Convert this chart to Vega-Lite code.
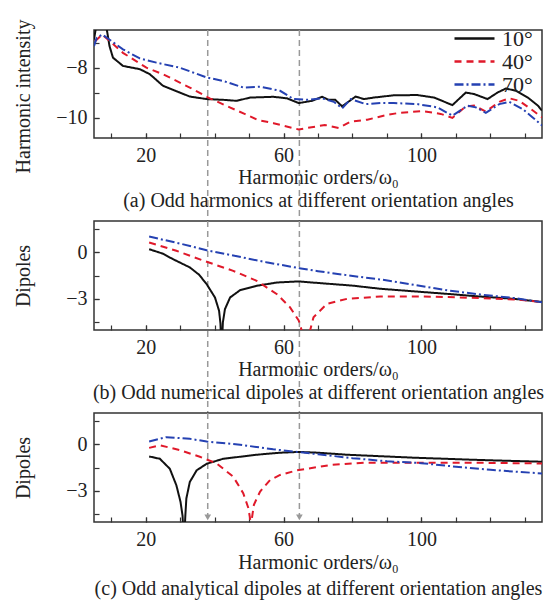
{
  "$schema": "https://vega.github.io/schema/vega-lite/v6.json",
  "background": "white",
  "padding": {"left": 12, "top": 18, "right": 5, "bottom": 2},
  "config": {
    "font": "Liberation Serif",
    "view": {"stroke": "#333", "strokeWidth": 1.5},
    "axis": {"domain": false, "grid": false, "tickSize": -5, "tickColor": "#333", "tickWidth": 1.2,
      "labelFont": "Liberation Serif", "titleFont": "Liberation Serif", "labelFontSize": 20, "titleFontSize": 20,
      "labelColor": "#222", "titleColor": "#222", "titleFontWeight": "normal", "labelOverlap": false, "labelFlush": false}
  },
  "datasets": {
    "a": [
      {"order": 5, "v": -6.88, "angle": "10°"}, {"order": 5.7, "v": -6.3, "angle": "10°"}, {"order": 8.5, "v": -6.3, "angle": "10°"},
      {"order": 9.5, "v": -7.14, "angle": "10°"}, {"order": 10.5, "v": -7.6, "angle": "10°"}, {"order": 13.4, "v": -7.93, "angle": "10°"},
      {"order": 18.3, "v": -8.06, "angle": "10°"}, {"order": 21.2, "v": -8.26, "angle": "10°"}, {"order": 25, "v": -8.72, "angle": "10°"},
      {"order": 29.9, "v": -8.99, "angle": "10°"}, {"order": 32.8, "v": -9.15, "angle": "10°"}, {"order": 37.7, "v": -9.25, "angle": "10°"},
      {"order": 42.5, "v": -9.28, "angle": "10°"}, {"order": 46.4, "v": -9.32, "angle": "10°"}, {"order": 50.3, "v": -9.19, "angle": "10°"},
      {"order": 57.1, "v": -9.16, "angle": "10°"}, {"order": 61, "v": -9.22, "angle": "10°"}, {"order": 64.4, "v": -9.41, "angle": "10°"},
      {"order": 68.3, "v": -9.32, "angle": "10°"}, {"order": 71.2, "v": -9.16, "angle": "10°"}, {"order": 73.1, "v": -9.28, "angle": "10°"},
      {"order": 75.0, "v": -9.28, "angle": "10°"}, {"order": 77.0, "v": -9.54, "angle": "10°"}, {"order": 80.9, "v": -9.15, "angle": "10°"},
      {"order": 83.3, "v": -9.25, "angle": "10°"}, {"order": 86.2, "v": -9.19, "angle": "10°"}, {"order": 92.0, "v": -9.1, "angle": "10°"},
      {"order": 98.8, "v": -9.09, "angle": "10°"}, {"order": 103.7, "v": -9.19, "angle": "10°"}, {"order": 109.0, "v": -9.49, "angle": "10°"},
      {"order": 112.9, "v": -8.99, "angle": "10°"}, {"order": 115.3, "v": -9.05, "angle": "10°"}, {"order": 119.2, "v": -9.25, "angle": "10°"},
      {"order": 122.1, "v": -8.99, "angle": "10°"}, {"order": 124.5, "v": -8.83, "angle": "10°"}, {"order": 127.5, "v": -8.92, "angle": "10°"},
      {"order": 130.9, "v": -9.19, "angle": "10°"}, {"order": 133.8, "v": -9.51, "angle": "10°"}, {"order": 135, "v": -9.71, "angle": "10°"},

      {"order": 5.3, "v": -6.95, "angle": "40°"}, {"order": 7.4, "v": -6.68, "angle": "40°"}, {"order": 13.4, "v": -7.41, "angle": "40°"},
      {"order": 20.2, "v": -8.0, "angle": "40°"}, {"order": 25, "v": -8.26, "angle": "40°"}, {"order": 32.8, "v": -8.79, "angle": "40°"},
      {"order": 38.6, "v": -9.22, "angle": "40°"}, {"order": 44.4, "v": -9.58, "angle": "40°"}, {"order": 48.7, "v": -9.84, "angle": "40°"},
      {"order": 52.5, "v": -10.08, "angle": "40°"}, {"order": 57.1, "v": -10.21, "angle": "40°"}, {"order": 64.4, "v": -10.46, "angle": "40°"},
      {"order": 72, "v": -10.28, "angle": "40°"}, {"order": 76, "v": -10.4, "angle": "40°"}, {"order": 79.5, "v": -10.15, "angle": "40°"},
      {"order": 84.3, "v": -10.07, "angle": "40°"}, {"order": 90.1, "v": -9.88, "angle": "40°"}, {"order": 93.5, "v": -9.8, "angle": "40°"},
      {"order": 100.3, "v": -9.73, "angle": "40°"}, {"order": 105.6, "v": -9.84, "angle": "40°"}, {"order": 109.0, "v": -10.0, "angle": "40°"},
      {"order": 112.9, "v": -9.54, "angle": "40°"}, {"order": 115.3, "v": -9.51, "angle": "40°"}, {"order": 118.7, "v": -9.75, "angle": "40°"},
      {"order": 122.6, "v": -9.36, "angle": "40°"}, {"order": 125.5, "v": -9.22, "angle": "40°"}, {"order": 128.4, "v": -9.32, "angle": "40°"},
      {"order": 131.8, "v": -9.65, "angle": "40°"}, {"order": 135, "v": -9.98, "angle": "40°"},

      {"order": 5, "v": -7.14, "angle": "70°"}, {"order": 5.8, "v": -6.81, "angle": "70°"}, {"order": 7.4, "v": -6.68, "angle": "70°"},
      {"order": 10.5, "v": -6.98, "angle": "70°"}, {"order": 13.4, "v": -7.27, "angle": "70°"}, {"order": 18.3, "v": -7.63, "angle": "70°"},
      {"order": 23.1, "v": -7.8, "angle": "70°"}, {"order": 29.9, "v": -8.0, "angle": "70°"}, {"order": 37.7, "v": -8.39, "angle": "70°"},
      {"order": 42.5, "v": -8.53, "angle": "70°"}, {"order": 48.3, "v": -8.79, "angle": "70°"}, {"order": 53.2, "v": -8.76, "angle": "70°"},
      {"order": 59.0, "v": -8.92, "angle": "70°"}, {"order": 62.9, "v": -9.25, "angle": "70°"}, {"order": 66.8, "v": -9.28, "angle": "70°"},
      {"order": 71.2, "v": -9.22, "angle": "70°"}, {"order": 74.6, "v": -9.36, "angle": "70°"}, {"order": 77.0, "v": -9.62, "angle": "70°"},
      {"order": 79.5, "v": -9.25, "angle": "70°"}, {"order": 83.8, "v": -9.45, "angle": "70°"}, {"order": 88.2, "v": -9.41, "angle": "70°"},
      {"order": 92.0, "v": -9.41, "angle": "70°"}, {"order": 98.8, "v": -9.45, "angle": "70°"}, {"order": 104.6, "v": -9.58, "angle": "70°"},
      {"order": 109.0, "v": -9.91, "angle": "70°"}, {"order": 113.4, "v": -9.51, "angle": "70°"}, {"order": 115.8, "v": -9.58, "angle": "70°"},
      {"order": 118.7, "v": -9.8, "angle": "70°"}, {"order": 122.6, "v": -9.45, "angle": "70°"}, {"order": 125.5, "v": -9.36, "angle": "70°"},
      {"order": 129.4, "v": -9.65, "angle": "70°"}, {"order": 132.3, "v": -9.98, "angle": "70°"}, {"order": 135, "v": -10.3, "angle": "70°"}
    ],
    "b": [
      {"order": 21, "v": 0.19, "angle": "10°"}, {"order": 25, "v": -0.1, "angle": "10°"}, {"order": 27.9, "v": -0.45, "angle": "10°"},
      {"order": 32.8, "v": -0.98, "angle": "10°"}, {"order": 35.5, "v": -1.45, "angle": "10°"}, {"order": 37.7, "v": -2.06, "angle": "10°"},
      {"order": 40.1, "v": -2.91, "angle": "10°"}, {"order": 41.3, "v": -3.77, "angle": "10°"}, {"order": 41.7, "v": -4.6, "angle": "10°"},
      {"order": 42.0, "v": -6.5, "angle": "10°"}, {"order": 42.4, "v": -4.5, "angle": "10°"}, {"order": 43.0, "v": -3.66, "angle": "10°"},
      {"order": 44.5, "v": -2.91, "angle": "10°"}, {"order": 47.4, "v": -2.44, "angle": "10°"}, {"order": 52.2, "v": -2.16, "angle": "10°"},
      {"order": 58.1, "v": -1.95, "angle": "10°"}, {"order": 64.4, "v": -1.88, "angle": "10°"}, {"order": 70, "v": -1.98, "angle": "10°"},
      {"order": 80, "v": -2.15, "angle": "10°"}, {"order": 88, "v": -2.35, "angle": "10°"}, {"order": 98, "v": -2.52, "angle": "10°"},
      {"order": 107.5, "v": -2.68, "angle": "10°"}, {"order": 117, "v": -2.85, "angle": "10°"}, {"order": 127, "v": -3.0, "angle": "10°"},
      {"order": 135, "v": -3.2, "angle": "10°"},

      {"order": 21, "v": 0.62, "angle": "40°"}, {"order": 28.9, "v": 0.09, "angle": "40°"}, {"order": 37.7, "v": -0.62, "angle": "40°"},
      {"order": 45.4, "v": -1.2, "angle": "40°"}, {"order": 52.2, "v": -1.84, "angle": "40°"}, {"order": 58.1, "v": -2.7, "angle": "40°"},
      {"order": 61.9, "v": -3.55, "angle": "40°"}, {"order": 64.4, "v": -4.39, "angle": "40°"}, {"order": 65.5, "v": -5.2, "angle": "40°"},
      {"order": 66.5, "v": -6.5, "angle": "40°"}, {"order": 67.5, "v": -5.2, "angle": "40°"}, {"order": 68.7, "v": -4.18, "angle": "40°"},
      {"order": 72.6, "v": -3.32, "angle": "40°"}, {"order": 78.4, "v": -3.0, "angle": "40°"}, {"order": 88.1, "v": -2.85, "angle": "40°"},
      {"order": 100, "v": -2.85, "angle": "40°"}, {"order": 110, "v": -2.9, "angle": "40°"}, {"order": 120, "v": -2.97, "angle": "40°"},
      {"order": 128, "v": -3.05, "angle": "40°"}, {"order": 135, "v": -3.2, "angle": "40°"},

      {"order": 21, "v": 1.0, "angle": "70°"}, {"order": 30, "v": 0.55, "angle": "70°"}, {"order": 37.7, "v": 0.12, "angle": "70°"},
      {"order": 45, "v": -0.2, "angle": "70°"}, {"order": 55, "v": -0.65, "angle": "70°"}, {"order": 64.6, "v": -1.03, "angle": "70°"},
      {"order": 70, "v": -1.22, "angle": "70°"}, {"order": 79, "v": -1.5, "angle": "70°"}, {"order": 88, "v": -1.75, "angle": "70°"},
      {"order": 98, "v": -2.1, "angle": "70°"}, {"order": 107.5, "v": -2.45, "angle": "70°"}, {"order": 117, "v": -2.72, "angle": "70°"},
      {"order": 127, "v": -2.95, "angle": "70°"}, {"order": 135, "v": -3.22, "angle": "70°"}
    ],
    "c": [
      {"order": 21, "v": -0.79, "angle": "10°"}, {"order": 24.1, "v": -0.94, "angle": "10°"}, {"order": 27, "v": -1.58, "angle": "10°"},
      {"order": 28.9, "v": -2.64, "angle": "10°"}, {"order": 30.1, "v": -3.7, "angle": "10°"}, {"order": 30.7, "v": -4.6, "angle": "10°"},
      {"order": 31.1, "v": -6.5, "angle": "10°"}, {"order": 31.5, "v": -4.6, "angle": "10°"}, {"order": 31.8, "v": -3.49, "angle": "10°"},
      {"order": 32.8, "v": -2.43, "angle": "10°"}, {"order": 34.8, "v": -1.68, "angle": "10°"}, {"order": 37.7, "v": -1.26, "angle": "10°"},
      {"order": 42.5, "v": -0.94, "angle": "10°"}, {"order": 52.2, "v": -0.68, "angle": "10°"}, {"order": 59, "v": -0.55, "angle": "10°"},
      {"order": 64.6, "v": -0.5, "angle": "10°"}, {"order": 70, "v": -0.55, "angle": "10°"}, {"order": 78.4, "v": -0.68, "angle": "10°"},
      {"order": 97.8, "v": -0.87, "angle": "10°"}, {"order": 117.3, "v": -1.02, "angle": "10°"}, {"order": 135, "v": -1.13, "angle": "10°"},

      {"order": 21, "v": -0.24, "angle": "40°"}, {"order": 24.1, "v": -0.07, "angle": "40°"}, {"order": 29.9, "v": -0.38, "angle": "40°"},
      {"order": 35.7, "v": -0.81, "angle": "40°"}, {"order": 40.6, "v": -1.24, "angle": "40°"}, {"order": 45.4, "v": -2.09, "angle": "40°"},
      {"order": 48.3, "v": -3.15, "angle": "40°"}, {"order": 49.8, "v": -4.11, "angle": "40°"}, {"order": 50.3, "v": -4.8, "angle": "40°"},
      {"order": 50.5, "v": -6.5, "angle": "40°"}, {"order": 50.8, "v": -4.8, "angle": "40°"}, {"order": 51.4, "v": -3.89, "angle": "40°"},
      {"order": 53.2, "v": -3.04, "angle": "40°"}, {"order": 56.1, "v": -2.3, "angle": "40°"}, {"order": 59, "v": -1.98, "angle": "40°"},
      {"order": 63.9, "v": -1.68, "angle": "40°"}, {"order": 70, "v": -1.47, "angle": "40°"}, {"order": 73.6, "v": -1.34, "angle": "40°"},
      {"order": 83.3, "v": -1.19, "angle": "40°"}, {"order": 97.8, "v": -1.19, "angle": "40°"}, {"order": 112.4, "v": -1.19, "angle": "40°"},
      {"order": 135, "v": -1.24, "angle": "40°"},

      {"order": 21, "v": 0.17, "angle": "70°"}, {"order": 26, "v": 0.45, "angle": "70°"}, {"order": 32.8, "v": 0.34, "angle": "70°"},
      {"order": 37.7, "v": 0.17, "angle": "70°"}, {"order": 47.4, "v": -0.04, "angle": "70°"}, {"order": 57, "v": -0.33, "angle": "70°"},
      {"order": 64, "v": -0.5, "angle": "70°"}, {"order": 70, "v": -0.65, "angle": "70°"}, {"order": 80, "v": -0.9, "angle": "70°"},
      {"order": 90, "v": -1.1, "angle": "70°"}, {"order": 100, "v": -1.22, "angle": "70°"}, {"order": 110, "v": -1.45, "angle": "70°"},
      {"order": 120, "v": -1.65, "angle": "70°"}, {"order": 128, "v": -1.78, "angle": "70°"}, {"order": 135, "v": -1.88, "angle": "70°"}
    ],
    "marks": [{"order": 38}, {"order": 64.6}]
  },
  "spacing": 83,
  "bounds": "flush",
  "resolve": {"legend": {"color": "independent", "strokeDash": "independent"}},
  "vconcat": [
    {
      "width": 448, "height": 108,
      "resolve": {"axis": {"x": "independent", "y": "independent"}},
      "layer": [
        {
          "data": {"name": "marks"},
          "mark": {"type": "rule", "color": "#999", "strokeDash": [6, 4], "strokeWidth": 1.5},
          "encoding": {
            "x": {"field": "order", "type": "quantitative", "axis": {"orient": "bottom", "values": [10, 20, 30, 40, 50, 60, 70, 80, 90, 100, 110, 120, 130], "labels": false, "title": null}},
            "y": {"datum": -6.5, "axis": {"orient": "left", "values": [-10, -9, -8, -7], "labels": false, "title": null}},
            "y2": {"datum": -14.1}
          }
        },
        {
          "data": {"name": "a"},
          "mark": {"type": "line", "clip": true, "strokeWidth": 2},
          "encoding": {
            "x": {"field": "order", "type": "quantitative", "scale": {"domain": [5, 135], "nice": false, "zero": false},
              "axis": {"orient": "bottom", "title": ["Harmonic orders/ω₀", "(a) Odd harmonics at different orientation angles"], "titleLineHeight": 23, "values": [20, 60, 100], "labelPadding": 12, "titlePadding": 2}},
            "y": {"field": "v", "type": "quantitative", "scale": {"domain": [-10.8, -6.5], "nice": false, "zero": false},
              "axis": {"orient": "left", "title": "Harmonic intensity", "values": [-10, -8], "labelPadding": 12, "titleX": -61, "titleY": 66}},
            "color": {"field": "angle", "type": "nominal", "scale": {"domain": ["10°", "40°", "70°"], "range": ["#111111", "#e0192a", "#2541b2"]},
              "legend": {"orient": "none", "legendX": 369, "legendY": -3, "title": null, "symbolType": "M-2,0L2,0", "symbolSize": 400, "symbolStrokeWidth": 2.5, "labelFontSize": 22, "labelFont": "Liberation Serif", "labelColor": "#222", "labelOffset": 16, "rowPadding": 0, "padding": 0}},
            "strokeDash": {"field": "angle", "type": "nominal", "scale": {"domain": ["10°", "40°", "70°"], "range": [[1, 0], [7, 5], [9, 3, 2, 3]]},
              "legend": {"orient": "none", "legendX": 369, "legendY": -3, "title": null, "symbolType": "M-2,0L2,0", "symbolSize": 400, "symbolStrokeWidth": 2.5, "labelFontSize": 22, "labelFont": "Liberation Serif", "labelColor": "#222", "labelOffset": 16, "rowPadding": 0, "padding": 0}}
          }
        }
      ]
    },
    {
      "width": 448, "height": 109,
      "resolve": {"axis": {"x": "independent", "y": "independent"}},
      "layer": [
        {
          "data": {"name": "marks"},
          "mark": {"type": "rule", "color": "#999", "strokeDash": [6, 4], "strokeWidth": 1.5},
          "encoding": {
            "x": {"field": "order", "type": "quantitative", "axis": {"orient": "bottom", "values": [10, 20, 30, 40, 50, 60, 70, 80, 90, 100, 110, 120, 130], "labels": false, "title": null}},
            "y": {"datum": 2, "axis": {"orient": "left", "values": [-4.5, -3, -1.5, 0, 1.5], "labels": false, "title": null}},
            "y2": {"datum": -10.33}
          }
        },
        {
          "data": {"name": "b"},
          "mark": {"type": "line", "clip": true, "strokeWidth": 2},
          "encoding": {
            "x": {"field": "order", "type": "quantitative", "scale": {"domain": [5, 135], "nice": false, "zero": false},
              "axis": {"orient": "bottom", "title": ["Harmonic orders/ω₀", "(b) Odd numerical dipoles at different orientation angles"], "titleLineHeight": 23, "values": [20, 60, 100], "labelPadding": 12, "titlePadding": 2}},
            "y": {"field": "v", "type": "quantitative", "scale": {"domain": [-5, 2], "nice": false, "zero": false},
              "axis": {"orient": "left", "title": "Dipoles", "values": [-3, 0], "labelPadding": 12, "titleX": -61}},
            "color": {"field": "angle", "type": "nominal", "scale": {"domain": ["10°", "40°", "70°"], "range": ["#111111", "#e0192a", "#2541b2"]}, "legend": null},
            "strokeDash": {"field": "angle", "type": "nominal", "scale": {"domain": ["10°", "40°", "70°"], "range": [[1, 0], [7, 5], [9, 3, 2, 3]]}, "legend": null}
          }
        }
      ]
    },
    {
      "width": 448, "height": 109,
      "resolve": {"axis": {"x": "independent", "y": "independent"}},
      "layer": [
        {
          "data": {"name": "marks"},
          "mark": {"type": "rule", "color": "#999", "strokeDash": [6, 4], "strokeWidth": 1.5},
          "encoding": {
            "x": {"field": "order", "type": "quantitative", "axis": {"orient": "bottom", "values": [10, 20, 30, 40, 50, 60, 70, 80, 90, 100, 110, 120, 130], "labels": false, "title": null}},
            "y": {"datum": 2, "axis": {"orient": "left", "values": [-4.5, -3, -1.5, 0, 1.5], "labels": false, "title": null}},
            "y2": {"datum": -4.6}
          }
        },
        {
          "data": {"name": "marks"},
          "mark": {"type": "point", "shape": "triangle-down", "filled": true, "color": "#999", "size": 45, "opacity": 1},
          "encoding": {"x": {"field": "order", "type": "quantitative", "axis": null}, "y": {"datum": -4.7, "axis": null}}
        },
        {
          "data": {"name": "c"},
          "mark": {"type": "line", "clip": true, "strokeWidth": 2},
          "encoding": {
            "x": {"field": "order", "type": "quantitative", "scale": {"domain": [5, 135], "nice": false, "zero": false},
              "axis": {"orient": "bottom", "title": ["Harmonic orders/ω₀", "(c) Odd analytical dipoles at different orientation angles"], "titleLineHeight": 26, "values": [20, 60, 100], "labelPadding": 12, "titlePadding": 3}},
            "y": {"field": "v", "type": "quantitative", "scale": {"domain": [-5, 2], "nice": false, "zero": false},
              "axis": {"orient": "left", "title": "Dipoles", "values": [-3, 0], "labelPadding": 12, "titleX": -61}},
            "color": {"field": "angle", "type": "nominal", "scale": {"domain": ["10°", "40°", "70°"], "range": ["#111111", "#e0192a", "#2541b2"]}, "legend": null},
            "strokeDash": {"field": "angle", "type": "nominal", "scale": {"domain": ["10°", "40°", "70°"], "range": [[1, 0], [7, 5], [9, 3, 2, 3]]}, "legend": null}
          }
        }
      ]
    }
  ]
}
